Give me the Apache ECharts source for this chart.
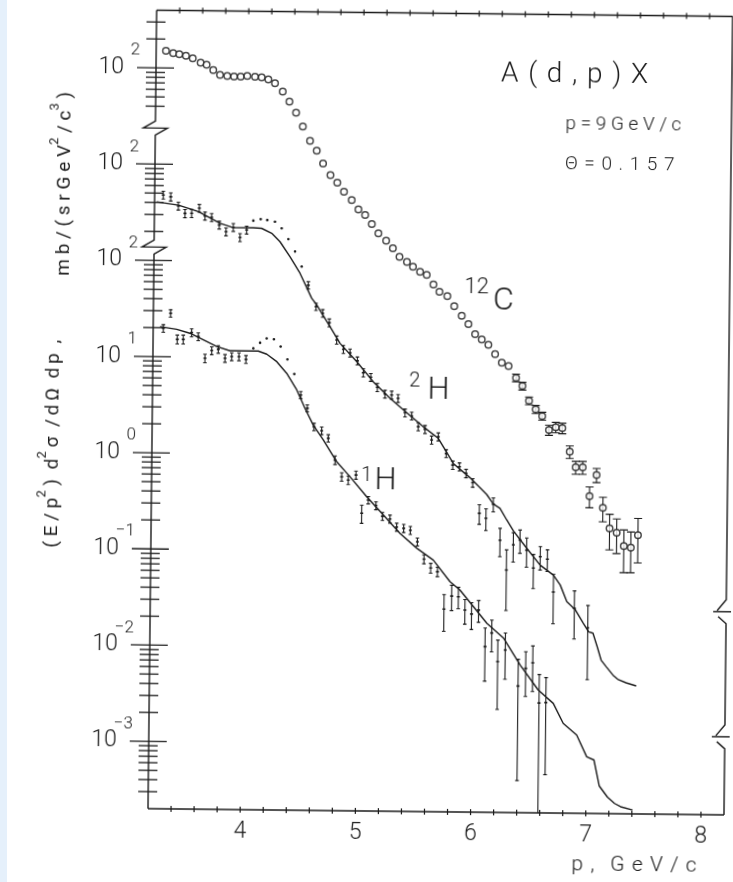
<!DOCTYPE html>
<html>
<head>
<meta charset="utf-8">
<script src="https://cdn.jsdelivr.net/npm/echarts@6/dist/echarts.min.js"></script>
<style>
  html, body { margin: 0; padding: 0; background: #ffffff; }
  #chart { position: absolute; left: 0; top: 0; width: 733px; height: 882px; transform: rotate(0.62deg); }
  #edge { position: absolute; left: 0; top: 0; width: 7px; height: 882px; background: #e5f0fb; }
</style>
</head>
<body>
<div id="chart"></div>
<div id="edge"></div>
<script>
// A(d,p)X inclusive spectra at p = 9 GeV/c, theta = 0.157 rad.
// Each block is stacked on a single log scale: 12C x100, 2H x10, 1H x1.
const OFFSET_12C = 100;
const OFFSET_2H = 10;

// 12C: momentum (GeV/c), cross section, error
const P_12C = [3.285,3.348,3.401,3.459,3.518,3.587,3.639,3.697,3.756,3.819,
  3.878,3.936,3.993,4.060,4.118,4.176,4.234,4.302,4.361,4.420,
  4.480,4.544,4.603,4.659,4.724,4.784,4.843,4.911,4.970,5.029,
  5.088,5.146,5.214,5.273,5.331,5.396,5.449,5.511,5.569,5.628,
  5.681,5.750,5.811,5.877,5.936,5.995,6.053,6.111,6.170,6.229,
  6.288,6.354,6.410,6.469,6.528,6.585,6.645,6.704,6.761,6.827,
  6.880,6.941,7.003,7.062,7.120,7.180,7.242,7.305,7.366,7.427];
const V_12C = [151,143,140,135,127,115,109,96.6,85.9,83.9,
  82.8,82.8,84.3,83.2,82.2,78.4,71.4,58.5,46.1,35.5,
  25.5,18.2,14.4,10.6,8.07,6.73,5.43,4.45,3.57,3.13,
  2.52,2.02,1.70,1.42,1.16,1.03,0.918,0.816,0.757,0.603,
  0.507,0.459,0.361,0.288,0.236,0.186,0.164,0.144,0.116,0.0944,
  0.0873,0.0661,0.0543,0.0383,0.0312,0.0266,0.0191,0.0204,0.0200,0.0114,
  0.00787,0.00787,0.00397,0.00658,0.00301,0.00184,0.00166,0.00121,0.00117,0.00158];
const E_12C = [0,0,0,0,0,0,0,0,0,0,
  0,0,0,0,0,0,0,0,0,0,
  0,0,0,0,0,0,0,0,0,0,
  0,0,0,0,0,0,0,0,0,0,
  0,0,0,0,0,0,0,0,0,0,
  0,0.006,0.005,0.0035,0.003,0.0025,0.0023,0.0025,0.0025,0.0017,
  0.0012,0.0012,0.00097,0.0011,0.00086,0.00074,0.00065,0.00057,0.00053,0.00077];

// 2H
const P_2H = [3.275,3.340,3.407,3.465,3.523,3.589,3.639,3.697,3.764,3.823,3.886,3.945,4.002,
  4.059,4.123,4.180,4.247,4.306,4.365,4.424,4.483,
  4.542,4.611,4.670,4.728,4.794,
  4.853,4.911,4.975,5.028,5.093,5.151,5.218,5.276,5.332,5.394,5.452,5.510,5.569,5.627,
  5.685,5.755,5.813,5.871,5.929,5.988,6.048,6.106,6.169,6.230,6.288,6.346,
  6.404,6.462,6.522,6.581,6.643,6.698,6.882,7.000];
const V_2H = [47.9,46.0,37.0,31.0,31.1,35.2,29.3,28.4,23.7,20.2,22.5,17.7,21.2,
  26.5,27.5,27.0,26.0,22.2,17.2,12.8,8.95,
  5.74,3.44,2.94,2.35,1.56,
  1.25,1.15,0.953,0.718,0.643,0.507,0.433,0.424,0.392,0.278,0.258,0.200,0.188,0.146,
  0.158,0.106,0.0805,0.0775,0.0662,0.0530,0.0255,0.0227,0.0318,0.0135,0.00661,0.0121,
  0.0136,0.0107,0.00698,0.00918,0.00865,0.00395,0.00269,0.00169];
const E_2H = [4.5,4.5,3.5,3.0,3.0,3.2,2.8,2.7,2.2,1.9,2.1,1.7,2.0,
  0,0,0,0,0,0,0,0,
  0.5,0.3,0.27,0.22,0.15,
  0.12,0.11,0.09,0.07,0.06,0.05,0.04,0.04,0.037,0.026,0.024,0.019,0.018,0.014,
  0.015,0.01,0.008,0.0075,0.0065,0.0055,0.0059,0.0058,0.0053,0.0044,0.0041,0.0041,
  0.0037,0.0036,0.0027,0.0025,0.0022,0.0021,0.0014,0.0012];

// 1H
const P_1H = [3.288,3.350,3.410,3.462,3.534,3.592,3.652,3.710,3.767,3.826,3.884,3.947,4.008,
  4.071,4.129,4.186,4.249,4.308,4.368,4.429,
  4.487,4.545,4.605,4.672,4.730,4.791,
  4.850,4.907,4.974,5.027,5.083,5.150,5.208,5.273,5.332,5.393,
  5.451,5.513,5.572,5.631,5.690,5.750,5.816,5.874,5.932,5.990,
  6.051,6.110,6.167,6.221,6.286,6.400,
  6.465,6.526,6.584,6.643];
const V_1H = [19.7,28.3,15.2,15.2,17.9,16.3,9.72,11.7,12.1,9.77,10.2,10.2,9.57,
  12.5,14.3,15.9,15.6,13.1,9.68,6.82,
  4.14,3.02,1.94,1.77,1.48,0.881,
  0.591,0.547,0.618,0.248,0.341,0.299,0.232,0.218,0.180,0.175,
  0.167,0.127,0.0842,0.0681,0.0625,0.0256,0.0350,0.0345,0.0251,0.0229,
  0.0252,0.0105,0.0146,0.00735,0.00975,0.00413,
  0.00632,0.00724,0.00277,0.00280];
const E_1H = [1.8,2.5,1.6,1.6,1.7,1.5,1.0,1.1,1.1,0.9,0.95,0.95,0.9,
  0,0,0,0,0,0,0,
  0.35,0.25,0.17,0.16,0.13,0.09,
  0.06,0.055,0.06,0.053,0.03,0.028,0.022,0.021,0.017,0.017,
  0.016,0.012,0.009,0.008,0.007,0.0106,0.0103,0.0086,0.0072,0.0071,
  0.0064,0.0059,0.0053,0.0050,0.0049,0.0037,
  0.0031,0.0036,0.0027,0.0023];

// model curves
const CURVE_2H_P = [3.218,3.406,3.580,3.770,3.886,4.059,4.132,4.220,4.293,4.381,4.469,4.573,4.618,
  4.735,4.823,4.970,5.115,5.262,5.408,5.553,5.685,5.817,5.964,6.111,6.169,6.227,6.287,6.346,
  6.463,6.580,6.697,6.757,6.816,6.888,6.962,7.008,7.046,7.084,7.119,7.164,7.223,7.265,7.338,7.426];
const CURVE_2H_V = [40.6,37.8,32.5,24.7,22.3,22.4,22.1,19.7,16.1,11.3,7.62,4.20,3.58,
  2.14,1.44,0.931,0.579,0.392,0.278,0.200,0.152,0.0838,0.0597,0.0401,0.0320,0.0289,0.0219,0.0169,
  0.0112,0.00753,0.00593,0.00469,0.00315,0.00262,0.00188,0.00154,0.00149,0.00108,0.000785,0.000671,
  0.000550,0.000498,0.000459,0.000427];
const CURVE_1H_P = [3.259,3.404,3.520,3.637,3.753,3.868,3.955,4.114,4.188,4.276,4.363,4.452,4.525,
  4.598,4.687,4.805,4.922,5.069,5.215,5.361,5.508,5.653,5.800,5.887,6.006,6.124,6.269,6.417,
  6.575,6.708,6.796,6.914,7.003,7.066,7.115,7.187,7.249,7.302,7.406];
const CURVE_1H_V = [20.5,19.3,17.6,15.1,12.9,11.7,11.7,11.7,10.9,9.12,6.92,4.66,3.01,
  2.02,1.42,0.845,0.593,0.369,0.239,0.155,0.109,0.0824,0.0493,0.0405,0.0273,0.0184,0.0130,0.00684,
  0.00379,0.00275,0.00171,0.00130,0.000774,0.000718,0.000385,0.000296,0.000255,0.000236,0.000219];

// axis ranges and ticks
const X_MIN = 3.2, X_MAX = 8.2;
const Y_MIN = Math.pow(10, -3.7), Y_MAX = Math.pow(10, 4.6);
const X_TICKS = [3.4,3.6,3.8,4.0,4.2,4.4,4.6,4.8,5.0,5.2,5.4,5.6,5.8,6.0,6.2,6.4,6.6,6.8,7.0,7.2,7.4,7.6,7.8,8.0];
const MANTISSAS = [2,3,4,5,6,7,8,9];
const DECADES_1H = [-4,-3,-2,-1,0,1];
const MINOR_2H = [20,30,40,50,60,70,80,90];
const MINOR_12C = [40,50,60,70,80,90,200,300];
const LABEL_VALUES = [100,100,100,10,1,0.1,0.01,0.001];
const LABEL_OFFSETS = [OFFSET_12C,OFFSET_2H,1,1,1,1,1,1];
const LABEL_EXPONENTS = ['2','2','2','1','0','\u22121','\u22122','\u22123'];
const LEFT_BREAKS = [Math.pow(10, 3.375), Math.pow(10, 2.138)];
const RIGHT_BREAKS = [Math.pow(10, -1.588), Math.pow(10, -2.888)];

const INK = '#1b1b1b';
const FONT = 'Roboto, "Liberation Sans", sans-serif';

const yTicks = [];
DECADES_1H.forEach(d => MANTISSAS.forEach(m => {
  const v = m * Math.pow(10, d);
  if (v > Y_MIN * 1.05) yTicks.push({ v: v, major: false });
}));
LABEL_VALUES.forEach((v, i) => yTicks.push({ v: v * LABEL_OFFSETS[i], major: true }));
MINOR_2H.forEach(v => yTicks.push({ v: v * OFFSET_2H, major: false }));
MINOR_12C.forEach(v => yTicks.push({ v: v * OFFSET_12C, major: false }));

function renderFrame(params, api) {
  const g = [];
  const pt = (x, y) => api.coord([x, y]);
  const xL = pt(X_MIN, 1)[0], xR = pt(X_MAX, 1)[0];
  const yT = pt(X_MIN, Y_MAX)[1], yB = pt(X_MIN, Y_MIN)[1];
  const lineStyle = { stroke: INK, lineWidth: 1.4, fill: null };
  const seg = (x1, y1, x2, y2, w) => g.push({ type: 'line', shape: { x1, y1, x2, y2 }, style: { stroke: INK, lineWidth: w || 1.2 } });

  // left axis with break marks
  const left = [[xL, yT]];
  LEFT_BREAKS.forEach(b => {
    const y = pt(X_MIN, b)[1];
    left.push([xL, y - 7], [xL - 12, y], [xL + 12, y], [xL, y + 7]);
  });
  left.push([xL, yB]);
  g.push({ type: 'polyline', shape: { points: left }, style: lineStyle });

  // right border with break marks
  let start = [[xR, yT]];
  RIGHT_BREAKS.forEach(b => {
    const y = pt(X_MAX, b)[1];
    g.push({ type: 'polyline', shape: { points: start.concat([[xR, y - 12], [xR - 9, y - 1]]) }, style: lineStyle });
    seg(xR - 13, y, xR + 6, y, 1.4);
    start = [[xR - 8, y + 5], [xR, y + 12]];
  });
  g.push({ type: 'polyline', shape: { points: start.concat([[xR, yB]]) }, style: lineStyle });

  seg(xL, yT, xR, yT, 1.4);
  seg(xL, yB, xR, yB, 1.4);

  X_TICKS.forEach(v => {
    const x = pt(v, 1)[0];
    seg(x, yB - 3, x, yB + 3, 1.2);
    seg(x, yT - 3, x, yT + 3, 1.2);
  });

  yTicks.forEach(t => {
    const y = pt(X_MIN, t.v)[1];
    const len = t.major ? 19 : 10;
    seg(xL - len, y, xL + len - 1, y, 1.3);
  });

  LABEL_VALUES.forEach((v, i) => {
    const y = pt(X_MIN, v * LABEL_OFFSETS[i])[1];
    g.push({ type: 'text', x: xL - 32, y: y, style: { text: '10', fill: INK, fontSize: 23, fontFamily: FONT, fontWeight: 300, align: 'right', verticalAlign: 'middle' } });
    g.push({ type: 'text', x: xL - 16, y: y - 17, style: { text: LABEL_EXPONENTS[i], fill: INK, fontSize: 17, fontFamily: FONT, fontWeight: 300, align: 'right', verticalAlign: 'middle' } });
  });
  return { type: 'group', children: g };
}

function renderBars(params, api) {
  const p = api.value(0), v = api.value(1), s = api.value(2), cap = api.value(3), dot = api.value(4);
  const c = api.coord([p, v]);
  const g = [];
  if (s > 0) {
    const lo = v - s;
    const top = api.coord([p, v + s]);
    const bot = api.coord([p, lo > Y_MIN ? lo : Y_MIN]);
    g.push({ type: 'line', shape: { x1: c[0], y1: top[1], x2: c[0], y2: bot[1] }, style: { stroke: INK, lineWidth: 1.1 } });
    g.push({ type: 'line', shape: { x1: c[0] - cap, y1: top[1], x2: c[0] + cap, y2: top[1] }, style: { stroke: INK, lineWidth: 1.1 } });
    if (lo > Y_MIN) g.push({ type: 'line', shape: { x1: c[0] - cap, y1: bot[1], x2: c[0] + cap, y2: bot[1] }, style: { stroke: INK, lineWidth: 1.1 } });
    if (dot) g.push({ type: 'line', shape: { x1: c[0] - 1.5, y1: c[1], x2: c[0] + 1.5, y2: c[1] }, style: { stroke: INK, lineWidth: 1.6 } });
  } else if (dot) {
    g.push({ type: 'circle', shape: { cx: c[0], cy: c[1], r: 1.3 }, style: { fill: INK } });
  }
  return { type: 'group', children: g };
}

const scaled = (P, V, k) => P.map((p, i) => [p, V[i] * k]);
const bars = (P, V, E, k, cap, dot) => P.map((p, i) => [p, V[i] * k, E[i] * k, cap, dot]);

const textStyle = (text, size, weight) => ({ text: text, fill: INK, fontSize: size, fontFamily: FONT, fontWeight: weight || 300 });
const supRich = { s: { fontSize: 13, lineHeight: 34, verticalAlign: 'top', fontFamily: FONT, fontWeight: 400, fill: INK } };

const chart = echarts.init(document.getElementById('chart'));
chart.setOption({
  animation: false,
  backgroundColor: '#ffffff',
  grid: { left: 152, right: 5, top: 12.5, bottom: 71 },
  xAxis: {
    type: 'value', min: X_MIN, max: X_MAX, interval: 0.2,
    axisLine: { show: false }, axisTick: { show: false }, splitLine: { show: false },
    axisLabel: {
      margin: 11, color: INK, fontSize: 23, fontFamily: FONT, fontWeight: 300,
      formatter: v => Math.abs(v - Math.round(v)) < 1e-6 ? String(Math.round(v)) : ''
    }
  },
  yAxis: {
    type: 'log', logBase: 10, min: Y_MIN, max: Y_MAX,
    axisLine: { show: false }, axisTick: { show: false }, axisLabel: { show: false }, splitLine: { show: false }
  },
  graphic: [
    { type: 'text', x: 497, y: 73, style: Object.assign(textStyle('A \u200A( \u200Ad \u200A, \u200Ap \u200A) \u200AX', 28), { align: 'left', verticalAlign: 'middle' }) },
    { type: 'text', x: 562, y: 122, style: Object.assign(textStyle('p = 9 G e V / c', 19), { align: 'left', verticalAlign: 'middle' }) },
    { type: 'text', x: 562, y: 162, style: Object.assign(textStyle('\u0398 \u200A= \u200A0 \u200A. \u200A1 \u200A5 \u200A7', 19), { align: 'left', verticalAlign: 'middle' }) },
    { type: 'text', x: 475, y: 286, style: Object.assign(textStyle('12', 22), { align: 'center', verticalAlign: 'middle' }) },
    { type: 'text', x: 502, y: 300, style: Object.assign(textStyle('C', 32), { align: 'center', verticalAlign: 'middle' }) },
    { type: 'text', x: 414, y: 381, style: Object.assign(textStyle('2', 20), { align: 'center', verticalAlign: 'middle' }) },
    { type: 'text', x: 438, y: 390, style: Object.assign(textStyle('H', 31), { align: 'center', verticalAlign: 'middle' }) },
    { type: 'text', x: 367, y: 476, style: Object.assign(textStyle('1', 20), { align: 'center', verticalAlign: 'middle' }) },
    { type: 'text', x: 386, y: 481, style: Object.assign(textStyle('H', 31), { align: 'center', verticalAlign: 'middle' }) },
    { type: 'text', x: 576, y: 863, style: Object.assign(textStyle('p \u200A, \u2002G \u200Ae \u200AV \u200A/ \u200Ac', 21), { align: 'left', verticalAlign: 'middle' }) },
    {
      type: 'text', x: 53, y: 447, rotation: Math.PI / 2,
      style: {
        text: '( E / p{s|2} )\u2002d{s|2}\u2009\u03c3\u2002/\u2009d\u2009\u03a9\u2002d\u2009p\u2002,',
        fill: INK, fontSize: 19, fontFamily: FONT, fontWeight: 400, lineHeight: 34,
        align: 'center', verticalAlign: 'middle', rich: supRich
      }
    },
    {
      type: 'text', x: 62, y: 187, rotation: Math.PI / 2,
      style: {
        text: 'm b / ( s r G e V{s|2} / c{s|3} )',
        fill: INK, fontSize: 19, fontFamily: FONT, fontWeight: 400, lineHeight: 34,
        align: 'center', verticalAlign: 'middle', rich: supRich
      }
    }
  ],
  series: [
    { type: 'custom', name: 'frame', renderItem: renderFrame, data: [[X_MIN, 1]], silent: true, z: 1 },
    { type: 'line', name: '2H model', data: scaled(CURVE_2H_P, CURVE_2H_V, OFFSET_2H), symbol: 'none', lineStyle: { color: INK, width: 1.4 }, z: 2 },
    { type: 'line', name: '1H model', data: scaled(CURVE_1H_P, CURVE_1H_V, 1), symbol: 'none', lineStyle: { color: INK, width: 1.4 }, z: 2 },
    { type: 'custom', name: '2H', renderItem: renderBars, data: bars(P_2H, V_2H, E_2H, OFFSET_2H, 1.8, 1), clip: true, z: 3 },
    { type: 'custom', name: '1H', renderItem: renderBars, data: bars(P_1H, V_1H, E_1H, 1, 1.8, 1), clip: true, z: 3 },
    { type: 'custom', name: '12C errors', renderItem: renderBars, data: bars(P_12C, V_12C, E_12C, OFFSET_12C, 4, 0), clip: true, z: 3 },
    { type: 'scatter', name: '12C', data: scaled(P_12C, V_12C, OFFSET_12C), symbol: 'circle', symbolSize: 6.5,
      itemStyle: { color: '#ffffff', borderColor: INK, borderWidth: 1.5 }, z: 5 }
  ]
});
</script>
</body>
</html>
